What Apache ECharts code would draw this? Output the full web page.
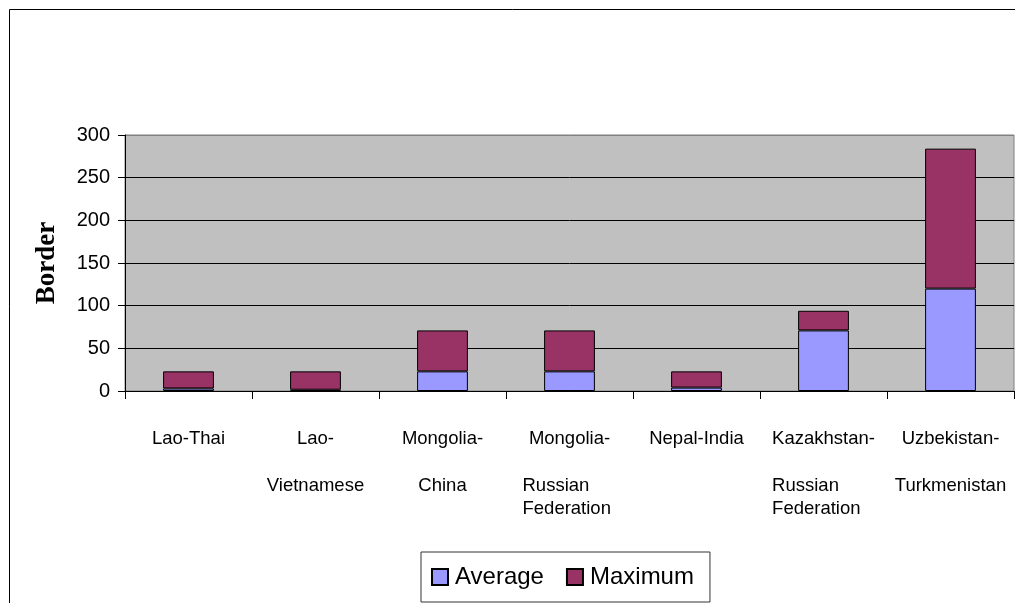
<!DOCTYPE html>
<html>
<head>
<meta charset="utf-8">
<script src="https://cdn.jsdelivr.net/npm/echarts@6/dist/echarts.min.js"></script>
<style>
  html, body { margin: 0; padding: 0; background: #fff; }
  #chart { width: 1015px; height: 603px; }
</style>
</head>
<body>
<div id="chart"></div>
<script>
// Border crossings: stacked average and maximum values
const categories = [
  'Lao-Thai',
  'Lao-Vietnamese',
  'Mongolia-China',
  'Mongolia-Russian Federation',
  'Nepal-India',
  'Kazakhstan-Russian Federation',
  'Uzbekistan-Turkmenistan'
];
// How each category label is broken into lines
const labelHead = ['Lao-Thai', 'Lao-', 'Mongolia-', 'Mongolia-', 'Nepal-India', 'Kazakhstan-', 'Uzbekistan-'];
const labelTail = [[], ['Vietnamese'], ['China'], ['Russian', 'Federation'], [], ['Russian', 'Federation'], ['Turkmenistan']];

const averageValues = [3, 1.5, 23, 23, 4, 71, 120];
const maximumValues = [20, 21.5, 48, 48, 19, 23, 164];

const yTicks = { min: 0, max: 300, interval: 50 };

const FONT = '"Liberation Sans", Arial, sans-serif';

function formatCategory(value) {
  const i = categories.indexOf(value);
  const tail = labelTail[i];
  let s = '{a|' + labelHead[i] + '}';
  if (tail.length === 1) {
    s += '\n{b|' + tail[0] + '}';
  } else if (tail.length > 1) {
    s += tail.map(t => '\n{l|' + t + '}').join('');
  }
  return s;
}

const chart = echarts.init(document.getElementById('chart'), null, { renderer: 'canvas' });

chart.setOption({
  animation: false,
  backgroundColor: '#ffffff',
  textStyle: { fontFamily: FONT },
  grid: {
    left: 125, right: 1, top: 135, bottom: 212,
    show: true,
    backgroundColor: '#C0C0C0',
    borderColor: '#808080',
    borderWidth: 1
  },
  legend: {
    left: 421, top: 552,
    padding: [13, 16, 13, 10],
    itemGap: 22,
    itemWidth: 16, itemHeight: 16,
    icon: 'rect',
    borderColor: '#333',
    borderWidth: 1,
    backgroundColor: '#fff',
    textStyle: { fontSize: 24, color: '#000', fontFamily: FONT, padding: [0, 0, 0, 2] },
    data: ['Average', 'Maximum']
  },
  xAxis: {
    type: 'category',
    data: categories,
    axisLine: { show: true, lineStyle: { color: '#000', width: 1 } },
    axisTick: { show: true, length: 8, lineStyle: { color: '#000' } },
    axisLabel: {
      interval: 0,
      margin: 12,
      color: '#000',
      formatter: formatCategory,
      rich: {
        a: { fontSize: 18.5, lineHeight: 71, fontFamily: FONT, color: '#000' },
        b: { fontSize: 18.5, lineHeight: 23, fontFamily: FONT, color: '#000' },
        l: { fontSize: 18.5, lineHeight: 23, fontFamily: FONT, color: '#000', width: 94, align: 'left' }
      }
    }
  },
  yAxis: {
    type: 'value',
    min: yTicks.min, max: yTicks.max, interval: yTicks.interval,
    name: 'Border',
    nameLocation: 'middle',
    nameRotate: 90,
    nameGap: 64,
    nameTextStyle: { fontFamily: '"Liberation Serif", "Times New Roman", serif', fontWeight: 'bold', fontSize: 27, color: '#000' },
    axisLine: { show: true, lineStyle: { color: '#000', width: 1 } },
    axisTick: { show: true, length: 7, inside: false, lineStyle: { color: '#000' } },
    axisLabel: { fontSize: 20, color: '#000', margin: 15, fontFamily: FONT },
    splitLine: {
      show: true,
      lineStyle: { color: ['#000', '#000', '#000', '#000', '#000', '#000', '#808080'], width: 1 }
    }
  },
  series: [
    {
      name: 'Average',
      type: 'bar',
      stack: 'total',
      barWidth: '40%',
      data: averageValues,
      itemStyle: { color: '#9999FF', borderColor: '#000', borderWidth: 1 }
    },
    {
      name: 'Maximum',
      type: 'bar',
      stack: 'total',
      barWidth: '40%',
      data: maximumValues,
      itemStyle: { color: '#993366', borderColor: '#000', borderWidth: 1 }
    }
  ],
  graphic: [
    {
      type: 'rect',
      silent: true,
      z: 100,
      shape: { x: 9.5, y: 9.5, width: 1100, height: 700 },
      style: { fill: 'none', stroke: '#000', lineWidth: 1 }
    }
  ]
});
</script>
</body>
</html>
